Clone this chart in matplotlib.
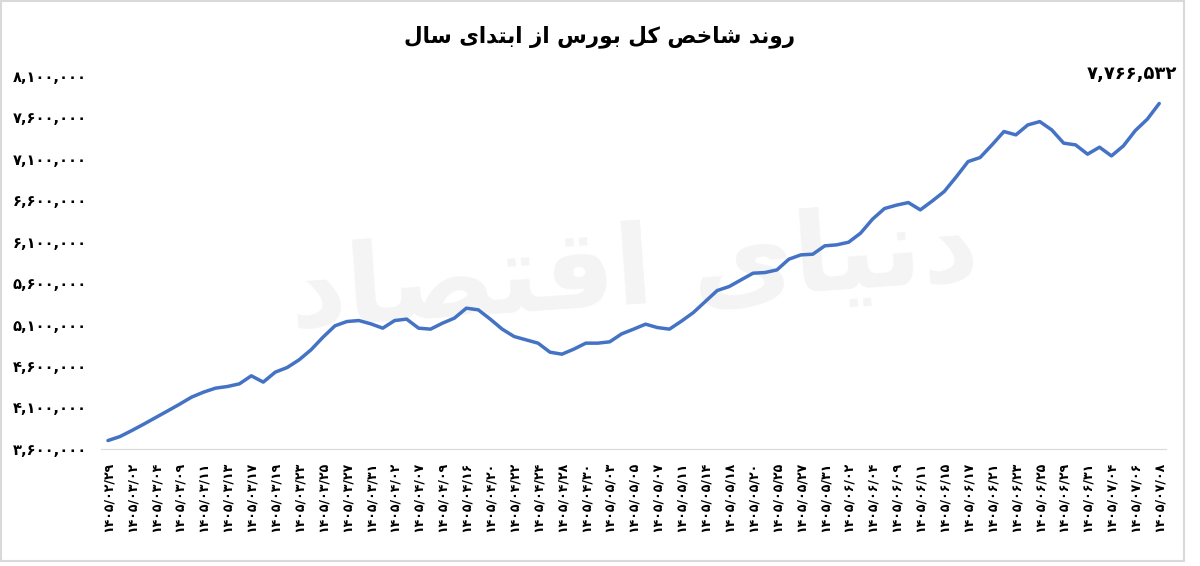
import matplotlib
matplotlib.use("Agg")
import matplotlib.pyplot as plt
from matplotlib.patches import Rectangle
from matplotlib.ticker import FuncFormatter

# index values, one per trading day (labels sit on every other day)
index_values = [
    3700000, 3748000, 3821000, 3898000, 3978000, 4058000, 4139000, 4224000,
    4284000, 4332000, 4352000, 4384000, 4481000, 4405000, 4525000, 4581000,
    4674000, 4795000, 4947000, 5084000, 5136000, 5148000, 5108000, 5056000,
    5148000, 5165000, 5056000, 5044000, 5116000, 5177000, 5297000, 5277000,
    5165000, 5044000, 4955000, 4915000, 4875000, 4766000, 4742000, 4803000,
    4875000, 4875000, 4891000, 4987000, 5044000, 5104000, 5063000, 5044000,
    5140000, 5244000, 5377000, 5510000, 5558000, 5639000, 5719000, 5727000,
    5759000, 5888000, 5940000, 5948000, 6049000, 6061000, 6093000, 6202000,
    6371000, 6499000, 6540000, 6571000, 6483000, 6590000, 6704000, 6880000,
    7066000, 7114000, 7267000, 7428000, 7388000, 7508000, 7548000, 7448000,
    7288000, 7267000, 7155000, 7239000, 7134000, 7255000, 7440000, 7577000,
    7766532,
]

date_labels = [
    "1405/02/29", "1405/03/02", "1405/03/04", "1405/03/09", "1405/03/11",
    "1405/03/13", "1405/03/17", "1405/03/19", "1405/03/23", "1405/03/25",
    "1405/03/27", "1405/03/31", "1405/04/02", "1405/04/07", "1405/04/09",
    "1405/04/16", "1405/04/20", "1405/04/22", "1405/04/24", "1405/04/28",
    "1405/04/30", "1405/05/03", "1405/05/05", "1405/05/07", "1405/05/11",
    "1405/05/14", "1405/05/18", "1405/05/20", "1405/05/25", "1405/05/27",
    "1405/05/31", "1405/06/02", "1405/06/04", "1405/06/09", "1405/06/11",
    "1405/06/15", "1405/06/17", "1405/06/21", "1405/06/23", "1405/06/25",
    "1405/06/29", "1405/06/31", "1405/07/04", "1405/07/06", "1405/07/08",
]

title_text = "روند شاخص کل بورس از ابتدای سال"
watermark_text = "دنیای اقتصاد"

y_min, y_max, y_step = 3600000, 8100000, 500000

# presentation forms: isolated, final, initial, medial
FORMS = {
    "ا": ("\uFE8D", "\uFE8E", None, None),
    "ب": ("\uFE8F", "\uFE90", "\uFE91", "\uFE92"),
    "ت": ("\uFE95", "\uFE96", "\uFE97", "\uFE98"),
    "خ": ("\uFEA5", "\uFEA6", "\uFEA7", "\uFEA8"),
    "د": ("\uFEA9", "\uFEAA", None, None),
    "ر": ("\uFEAD", "\uFEAE", None, None),
    "ز": ("\uFEAF", "\uFEB0", None, None),
    "س": ("\uFEB1", "\uFEB2", "\uFEB3", "\uFEB4"),
    "ش": ("\uFEB5", "\uFEB6", "\uFEB7", "\uFEB8"),
    "ص": ("\uFEB9", "\uFEBA", "\uFEBB", "\uFEBC"),
    "ق": ("\uFED5", "\uFED6", "\uFED7", "\uFED8"),
    "ل": ("\uFEDD", "\uFEDE", "\uFEDF", "\uFEE0"),
    "ن": ("\uFEE5", "\uFEE6", "\uFEE7", "\uFEE8"),
    "و": ("\uFEED", "\uFEEE", None, None),
    "ک": ("\uFB8E", "\uFB8F", "\uFB90", "\uFB91"),
    "ی": ("\uFBFC", "\uFBFD", "\uFBFE", "\uFBFF"),
}


def shape(text):
    # crude arabic shaping + reversal, since matplotlib has no bidi support
    out = []
    for i, ch in enumerate(text):
        if ch not in FORMS:
            out.append(ch)
            continue
        prev = text[i - 1] if i > 0 else None
        nxt = text[i + 1] if i + 1 < len(text) else None
        join_prev = prev in FORMS and FORMS[prev][2] is not None
        join_next = nxt in FORMS and FORMS[ch][2] is not None
        iso, fin, ini, med = FORMS[ch]
        if join_prev and join_next:
            out.append(med)
        elif join_prev:
            out.append(fin)
        elif join_next:
            out.append(ini)
        else:
            out.append(iso)
    return "".join(reversed(out))


fa_digits = str.maketrans("0123456789", "۰۱۲۳۴۵۶۷۸۹")


def fa_num(v, pos=None):
    return f"{int(v):,}".translate(fa_digits)


plt.rcParams["font.family"] = ["DejaVu Sans"]

fig = plt.figure(figsize=(12, 5.66), dpi=100)
ax = fig.add_axes([0.084, 0.207, 0.888, 0.659])

x = list(range(len(index_values)))
ax.plot(x, index_values, color="#4472C4", linewidth=2.5, zorder=3,
        solid_joinstyle="round", solid_capstyle="round")

ax.set_xlim(-0.6, len(index_values) - 0.4)
ax.set_ylim(y_min, y_max)
ax.set_yticks(range(y_min, y_max + 1, y_step))
ax.yaxis.set_major_formatter(FuncFormatter(fa_num))
ax.set_xticks(range(0, len(index_values), 2))
ax.set_xticklabels([d.translate(fa_digits) for d in date_labels],
                   rotation=90, fontsize=9, fontweight="bold")
for lbl in ax.get_yticklabels():
    lbl.set_fontweight("bold")
    lbl.set_fontsize(10.5)
ax.tick_params(axis="both", length=0, pad=10)
ax.tick_params(axis="x", pad=9)

for side in ["top", "right", "left"]:
    ax.spines[side].set_visible(False)
ax.spines["bottom"].set_color("#d9d9d9")

# faint watermark
ax.text(0.5, 0.47, shape(watermark_text), transform=ax.transAxes,
        fontsize=80, fontweight="bold", color="#f4f4f4", ha="center",
        va="center", rotation=4, zorder=1)

# last value label
ax.annotate(fa_num(index_values[-1]), xy=(x[-1], index_values[-1]),
            xytext=(-20, 15), textcoords="offset points", ha="center",
            va="bottom", fontsize=13, fontweight="bold")

fig.text(0.5, 0.936, shape(title_text), ha="center", va="center",
         fontsize=15.5, fontweight="bold")

fig.patches.append(Rectangle((0.001, 0.009), 0.986, 0.989, transform=fig.transFigure,
                             fill=False, edgecolor="#d9d9d9", linewidth=1.5))

fig.savefig("out.png", dpi=100)
